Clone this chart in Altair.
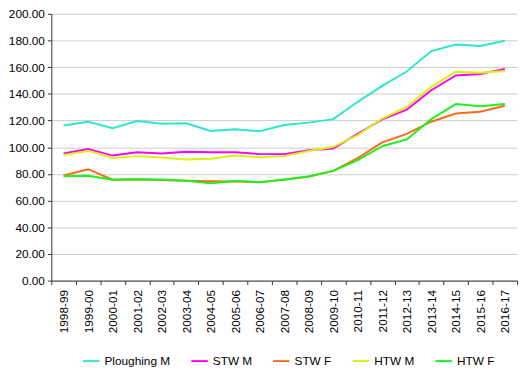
import altair as alt
import pandas as pd

years = ["1998-99", "1999-00", "2000-01", "2001-02", "2002-03", "2003-04", "2004-05",
         "2005-06", "2006-07", "2007-08", "2008-09", "2009-10", "2010-11", "2011-12",
         "2012-13", "2013-14", "2014-15", "2015-16", "2016-17"]

ploughing_m = [116.2, 119.1, 114.2, 119.6, 117.5, 117.9, 112.2, 113.4, 112.0, 116.6,
               118.4, 121.0, 134.0, 146.0, 156.7, 172.0, 176.9, 175.9, 179.8]
stw_m = [95.2, 98.7, 93.7, 96.2, 95.2, 96.5, 96.2, 96.2, 94.8, 94.8,
         97.7, 98.9, 110.0, 120.8, 128.2, 142.7, 153.8, 154.8, 158.7]
stw_f = [78.8, 83.5, 75.6, 76.0, 75.3, 74.8, 74.5, 74.3, 73.8, 75.5,
         78.0, 82.2, 91.8, 103.6, 110.0, 119.1, 125.2, 126.5, 131.1]
htw_m = [94.2, 97.2, 91.8, 93.3, 92.3, 90.8, 91.3, 93.7, 92.5, 93.3,
         97.2, 100.3, 109.0, 121.5, 130.2, 145.2, 156.6, 155.8, 157.1]
htw_f = [78.2, 78.6, 75.6, 76.0, 75.8, 74.8, 72.9, 74.6, 73.7, 75.8,
         78.0, 82.2, 90.3, 100.7, 105.8, 121.0, 132.4, 130.6, 132.4]

series_names = ["Ploughing M", "STW M", "STW F", "HTW M", "HTW F"]
series_values = [ploughing_m, stw_m, stw_f, htw_m, htw_f]
colors = ["#2de8c8", "#ff00ff", "#ff6a1a", "#d4f50a", "#1ff01f"]

rows = []
for name, vals in zip(series_names, series_values):
    for y, v in zip(years, vals):
        rows.append({"year": y, "series": name, "value": v})
df = pd.DataFrame(rows)

FONT = "Liberation Sans"

chart = alt.Chart(df).mark_line(strokeWidth=2).encode(
    x=alt.X("year:N", sort=years, title=None,
            scale=alt.Scale(paddingInner=0, paddingOuter=0),
            axis=alt.Axis(labelAngle=270, labelAlign="right", labelBaseline="middle",
                          labelFontSize=12, labelFont=FONT, labelColor="#000000",
                          tickBand="extent", tickSize=4, tickColor="#333333",
                          domainColor="#333333", labelPadding=5, grid=False)),
    y=alt.Y("value:Q", title=None,
            scale=alt.Scale(domain=[0, 200], nice=False, zero=True),
            axis=alt.Axis(values=list(range(0, 201, 20)), format=".2f",
                          labelFontSize=12, labelFont=FONT, labelColor="#000000",
                          tickSize=4, tickColor="#333333", domainColor="#333333",
                          gridColor="#cccccc", gridWidth=1, labelPadding=3)),
    color=alt.Color("series:N", sort=series_names,
                    scale=alt.Scale(domain=series_names, range=colors),
                    legend=alt.Legend(title=None, orient="none", direction="horizontal",
                                      legendX=31, legendY=343,
                                      symbolType="stroke", symbolSize=280,
                                      symbolStrokeWidth=2, labelFont=FONT,
                                      labelFontSize=12, labelColor="#000000",
                                      columnPadding=17)),
).properties(
    width=473, height=271,
    autosize=alt.AutoSizeParams(type="none"),
    padding={"left": 44, "top": 3, "right": 5, "bottom": 92},
).configure_view(stroke=None)

chart.save("out.html", embed_options={"renderer": "svg", "actions": False})
